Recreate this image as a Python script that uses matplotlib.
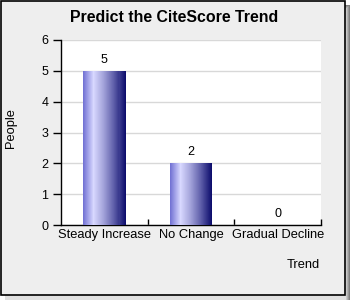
import numpy as np
import matplotlib
matplotlib.use("Agg")
import matplotlib.pyplot as plt
from matplotlib.colors import LinearSegmentedColormap
from matplotlib.patches import Rectangle

categories = ["Steady Increase", "No Change", "Gradual Decline"]
values = [5, 2, 0]
y_ticks = [0, 1, 2, 3, 4, 5, 6]
title = "Predict the CiteScore Trend"
x_label = "Trend"
y_label = "People"

FONT = "Liberation Sans"
W, H = 350, 300
fig = plt.figure(figsize=(3.5, 3.0), dpi=100)
fig.patch.set_facecolor("white")

# panel shadow, border
shadow_cols = ["#e0e0e0", "#c8c8c8", "#b0b0b0", "#989898", "#808080"]
for i, c in enumerate(shadow_cols[::-1]):
    fig.add_artist(Rectangle((5 / W, 0), (345 - i) / W, (295 - i) / H,
                             transform=fig.transFigure, facecolor=c, edgecolor="none", zorder=0))
fig.add_artist(Rectangle((0.5 / W, 5.5 / H), 344 / W, 294 / H, transform=fig.transFigure,
                         facecolor="#eeeeee", edgecolor="black", linewidth=1.2, zorder=1))

ax = fig.add_axes([61 / W, (H - 225) / H, (321 - 61) / W, (225 - 40) / H])
ax.set_zorder(2)
ax.set_facecolor("white")

x = np.arange(len(categories))

cmap = LinearSegmentedColormap.from_list(
    "bar", [(0.0, "#6e6ed2"), (0.25, "#d8d8ff"), (0.5, "#a0a0d8"), (0.75, "#5a5aa6"), (1.0, "#0a0a6a")])
bw = 0.49
nslices = 42
edges = np.linspace(-bw / 2, bw / 2, nslices + 1)
sw = edges[1] - edges[0]
for xi, v in zip(x, values):
    if v > 0:
        for k in range(nslices):
            ax.bar(xi + edges[k], v, width=sw * 1.05, align="edge",
                   color=cmap((k + 0.5) / nslices), linewidth=0, zorder=3)
    ax.text(xi, v + 0.17, str(v), ha="center", va="bottom",
            fontsize=9, family=FONT, color="black", zorder=4)
ax.set_xlim(-0.5, len(categories) - 0.5)
ax.set_ylim(0, 6)

ax.set_yticks(y_ticks)
ax.set_yticklabels([str(t) for t in y_ticks], fontsize=9, family=FONT)
ax.grid(axis="y", color="#d8d8d8", linewidth=1.0, zorder=1)
ax.set_axisbelow(True)
ax.tick_params(axis="y", direction="out", length=6, width=1, pad=3, color="black")

ax.set_xticks(x)
ax.set_xticklabels(categories, fontsize=9.3, family=FONT)
ax.tick_params(axis="x", which="major", length=0, pad=3)
ax.set_xticks(np.arange(len(categories)) + 0.5, minor=True)
ax.tick_params(axis="x", which="minor", direction="in", length=4, width=1, color="black")

for s in ["top", "right"]:
    ax.spines[s].set_visible(False)
for s in ["left", "bottom"]:
    ax.spines[s].set_color("black")
    ax.spines[s].set_linewidth(1.0)

fig.text(174 / W, 1 - 17 / H, title, ha="center", va="center", fontsize=11.4,
         fontweight="bold", family=FONT, zorder=5)
fig.text(303 / W, 1 - 265 / H, x_label, ha="center", va="center", fontsize=9.3,
         family=FONT, zorder=5)
fig.text(11 / W, 1 - 128 / H, y_label, ha="center", va="center", fontsize=9.3,
         rotation=90, family=FONT, zorder=5)

fig.savefig("out.png", dpi=100, facecolor=fig.get_facecolor())
